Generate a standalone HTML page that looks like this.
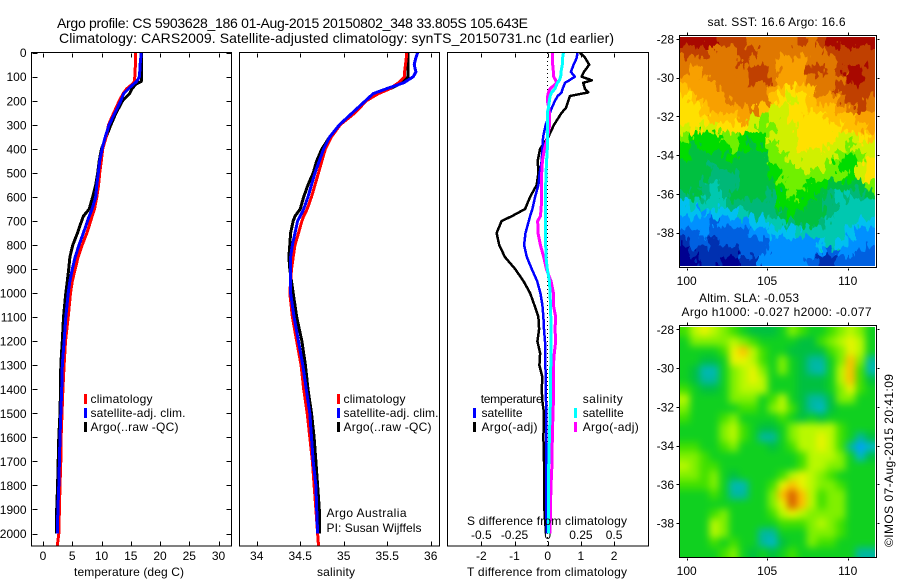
<!DOCTYPE html>
<html lang="en">
<head>
<meta charset="utf-8">
<title>Argo profile</title>
<style>
html,body{margin:0;padding:0;background:#fff;width:900px;height:580px;overflow:hidden}
svg{display:block;font-family:"Liberation Sans",sans-serif;font-size:12px;fill:#000}
text{white-space:pre}
</style>
</head>
<body>
<svg id="chart" xmlns="http://www.w3.org/2000/svg" width="900" height="580" viewBox="0 0 900 580">
  <defs>
    <clipPath id="clip-sst"><rect x="680" y="37" width="195" height="229"/></clipPath>
    <clipPath id="clip-sla"><rect x="680" y="327" width="195" height="230"/></clipPath>
    <filter id="smooth" filterUnits="userSpaceOnUse" x="650" y="300" width="250" height="280" color-interpolation-filters="sRGB"><feGaussianBlur stdDeviation="3.6"/></filter>
    <filter id="jagged" filterUnits="userSpaceOnUse" x="650" y="10" width="250" height="280" color-interpolation-filters="sRGB">
      <feTurbulence type="fractalNoise" baseFrequency="0.2 0.09" numOctaves="2" seed="4" result="noise"/>
      <feDisplacementMap in="SourceGraphic" in2="noise" scale="20" xChannelSelector="R" yChannelSelector="G"/>
    </filter>
  </defs>
  <rect width="900" height="580" fill="#fff"/>

  <text x="57" y="28" font-size="14" textLength="471">Argo profile: CS 5903628_186 01-Aug-2015 20150802_348 33.805S 105.643E</text>
  <text x="59" y="43" font-size="14" textLength="555">Climatology: CARS2009. Satellite-adjusted climatology: synTS_20150731.nc (1d earlier)</text>

  <g id="ticks" stroke="#000" stroke-width="1" shape-rendering="crispEdges"></g>
  <g id="tick-labels"></g>
  <g id="series" fill="none" shape-rendering="crispEdges" stroke-linejoin="round"></g>

  <g fill="none" stroke="#000" stroke-width="1" shape-rendering="crispEdges">
    <rect x="31.5" y="52.5" width="200" height="493.5"/>
    <rect x="239.5" y="52.5" width="200" height="493.5"/>
    <rect x="447.5" y="52.5" width="201" height="493.5"/>
  </g>

  <text x="129" y="576" text-anchor="middle" textLength="110">temperature (deg C)</text>
  <text x="336" y="576" text-anchor="middle" textLength="38">salinity</text>
  <text x="467" y="576" textLength="160">T difference from climatology</text>
  <text x="467" y="525" textLength="160">S difference from climatology</text>

  <g>
    <rect x="84" y="394" width="3" height="10" fill="#f00"/>
    <text x="90.5" y="403" textLength="62">climatology</text>
    <rect x="84" y="408" width="3" height="10" fill="#00f"/>
    <text x="90.5" y="417" textLength="95">satellite-adj. clim.</text>
    <rect x="84" y="422" width="3" height="10" fill="#000"/>
    <text x="90.5" y="431" textLength="88">Argo(..raw -QC)</text>
  </g>
  <g>
    <rect x="337" y="394" width="3" height="10" fill="#f00"/>
    <text x="343.5" y="403" textLength="62">climatology</text>
    <rect x="337" y="408" width="3" height="10" fill="#00f"/>
    <text x="343.5" y="417" textLength="95">satellite-adj. clim.</text>
    <rect x="337" y="422" width="3" height="10" fill="#000"/>
    <text x="343.5" y="431" textLength="88">Argo(..raw -QC)</text>
  </g>
  <text x="326.5" y="517" textLength="80">Argo Australia</text>
  <text x="326.5" y="532" textLength="95">PI: Susan Wijffels</text>

  <g>
    <text x="480.7" y="403" textLength="62">temperature</text>
    <rect x="473" y="408" width="3" height="10" fill="#00f"/>
    <text x="481.5" y="417" textLength="41">satellite</text>
    <rect x="473" y="422" width="3" height="10" fill="#000"/>
    <text x="481.5" y="431" textLength="56">Argo(-adj)</text>
    <text x="582.7" y="403" textLength="40">salinity</text>
    <rect x="574" y="408" width="3" height="10" fill="#0ff"/>
    <text x="582.7" y="417" textLength="41">satellite</text>
    <rect x="574" y="422" width="3" height="10" fill="#f0f"/>
    <text x="582.7" y="431" textLength="56">Argo(-adj)</text>
  </g>

  <text x="707.5" y="26" textLength="138">sat. SST: 16.6 Argo: 16.6</text>
  <text x="699" y="302" textLength="100">Altim. SLA: -0.053</text>
  <text x="681.5" y="316" textLength="190">Argo h1000: -0.027 h2000: -0.077</text>

  <g clip-path="url(#clip-sst)">
    <g id="sst-map" filter="url(#jagged)"></g>
  </g>
  <g clip-path="url(#clip-sla)">
    <g id="sla-map" filter="url(#smooth)"></g>
  </g>
  <g fill="none" stroke="#000" stroke-width="1" shape-rendering="crispEdges">
    <rect x="679.5" y="35.5" width="197" height="232"/>
    <rect x="679.5" y="325.5" width="197" height="232"/>
  </g>

  <text transform="translate(893,547) rotate(-90)" textLength="173">©IMOS 07-Aug-2015 20:41:09</text>
</svg>

<script>
// ---- axis tick values ----
const depthTicks = [0,100,200,300,400,500,600,700,800,900,1000,1100,1200,1300,1400,1500,1600,1700,1800,1900,2000];
const tempTicks = [0,5,10,15,20,25,30];
const salTicks = [34,34.5,35,35.5,36];
const salTickLabels = ["34","34.5","35","35.5","36"];
const tDiffTicks = [-2,-1,0,1,2];
const sDiffTicks = [-0.5,-0.25,0,0.25,0.5];
const sDiffTickLabels = ["-0.5","-0.25","0","0.25","0.5"];
const lonTicks = [100,105,110];
const latTicks = [-28,-30,-32,-34,-36,-38];

// ---- temperature profiles ----
const tempDepths = [0,50,100,120,130,150,170,200,250,300,350,400,450,500,550,600,650,680,700,750,800,850,900,950,1000,1100,1200,1300,1400,1500,1600,1700,1800,1900,2000,2050];
const tempClim = [15.84,15.8,15.7,15.6,15.3,14.3,13.7,13.05,12.1,11.2,10.8,10.2,9.97,9.7,9.5,9.2,8.8,8.4,8.15,7.5,6.7,6.0,5.5,5.0,4.7,4.3,3.85,3.6,3.4,3.25,3.1,3.05,2.9,2.8,2.7,2.45];
const tempSat = [16.8,16.6,16.5,16,15.5,14.6,13.8,13.3,12.3,11.3,10.65,10.1,9.7,9.45,9.2,9,8.4,7.9,7.6,6.9,6.15,5.5,5,4.6,4.3,3.9,3.6,3.3,3.2,3.05,2.9,2.8,2.7,2.55,2.45,null];
const tempArgo = [16.85,16.85,16.85,16.8,15.9,15.2,14.8,13.6,12.5,11.6,10.8,10,9.6,9.35,9,8.5,7.9,6.9,6.6,5.9,5.1,4.6,4.4,4.15,3.9,3.5,3.3,3.05,3,2.9,2.7,2.6,2.5,2.35,2.35,null];

// ---- salinity profiles ----
const salDepths = [0,20,50,80,100,125,150,170,200,250,300,350,400,450,500,550,600,650,680,700,750,800,850,900,1000,1100,1200,1300,1400,1500,1600,1700,1800,1900,2000,2050];
const salClim = [35.72,35.72,35.71,35.7,35.7,35.63,35.53,35.4,35.26,35.13,34.96,34.86,34.79,34.75,34.71,34.67,34.63,34.58,34.54,34.52,34.48,34.44,34.42,34.4,34.38,34.41,34.46,34.51,34.54,34.58,34.61,34.64,34.66,34.68,34.7,34.71];
const salSat = [35.85,35.83,35.81,35.83,35.8,35.69,35.49,35.34,35.25,35.1,34.95,34.84,34.77,34.72,34.67,34.63,34.59,34.54,34.5,34.47,34.44,34.41,34.39,34.39,34.39,34.43,34.48,34.53,34.57,34.61,34.63,34.65,34.68,34.69,34.7,null];
const salArgo = [35.74,35.74,35.74,35.74,35.74,35.67,35.53,35.38,35.26,35.12,34.96,34.84,34.75,34.69,34.65,34.59,34.54,34.5,34.44,34.42,34.39,34.38,34.37,34.38,34.42,34.46,34.52,34.56,34.59,34.63,34.66,34.68,34.7,34.72,34.72,null];

// ---- difference profiles ----
const diffDepths = [0,20,50,80,100,115,125,150,165,180,200,230,250,300,350,400,450,500,550,600,650,680,700,750,800,850,900,950,1000,1050,1100,1150,1200,1250,1300,1350,1400,1450,1500,1600,1700,1800,1900,2000];
const tDiffArgo = [.97,1.12,1.25,1.09,1.02,1.33,1.07,1.12,1.22,.67,.62,.55,.42,.19,.02,-.23,-.3,-.28,-.33,-.53,-.68,-1.08,-1.39,-1.54,-1.46,-1.29,-.98,-.73,-.53,-.4,-.28,-.26,-.31,-.23,-.25,-.16,-.18,-.16,-.11,-.13,-.11,-.1,-.1,-.05];
const tDiffSat = [.89,.88,.78,.7,.82,.65,.52,.45,.42,.3,.22,.12,.07,-.06,-.14,-.16,-.18,-.24,-.28,-.38,-.46,-.53,-.57,-.67,-.71,-.63,-.48,-.32,-.22,-.16,-.13,-.11,-.08,-.07,-.07,-.06,-.06,-.05,-.05,-.05,-.05,-.05,-.05,-.02];
const sDiffArgo = [.038,.038,.038,.043,.045,.06,.068,.018,.005,0,-.003,.008,.013,.015,0,-.025,-.04,-.045,-.045,-.045,-.05,-.055,-.075,-.073,-.055,-.03,-.01,.025,.043,.043,.06,.055,.06,.05,.043,.043,.043,.043,.04,.035,.033,.025,.02,.018];
const sDiffSat = [.118,.113,.11,.1,.098,.088,.073,.055,.03,.018,.013,.005,-.003,-.003,0,-.003,-.008,-.013,-.015,-.015,-.015,-.015,-.015,-.015,-.015,-.013,-.003,.013,.018,.02,.023,.025,.025,.025,.023,.02,.02,.02,.018,.013,.008,.005,.005,.005];

// ---- map fields: colour-level estimates per cell, north to south ----
const sstLevels = [
[16,16,16,16,15,15,15,14,14,14,14,14,15,14,15,16,16,16,16,16],
[15,15,15,14,14,14,15,15,14,14,14,14,14,14,14,15,15,15,15,15],
[14,14,14,14,14,14,15,14,14,14,13,13,13,14,14,14,15,15,15,15],
[14,13,14,14,14,14,14,15,15,14,13,13,13,15,15,14,15,16,16,15],
[13,13,13,14,14,14,14,15,15,14,13,13,13,14,14,14,14,16,16,15],
[12,13,13,13,14,14,14,14,14,13,12,11,12,12,14,14,15,15,15,15],
[11,12,13,13,13,14,14,14,14,12,11,10,11,12,13,13,14,15,15,14],
[11,11,12,13,13,13,13,14,12,10,10,11,11,12,12,12,13,14,15,14],
[11,11,11,12,12,12,13,10,9,10,10,11,11,11,11,12,12,12,13,13],
[10,11,10,10,11,11,11,10,9,9,10,10,11,11,11,11,11,12,12,13],
[9,8,8,8,9,9,8,8,8,10,10,10,11,11,11,11,10,10,11,12],
[8,7,8,8,8,9,8,7,8,9,10,10,11,11,11,10,10,9,10,10],
[8,7,7,7,7,8,7,7,7,9,9,10,10,10,10,10,9,8,9,10],
[7,7,7,6,7,7,7,7,7,8,9,9,10,10,10,9,8,8,10,11],
[7,7,7,6,6,6,7,7,7,8,9,9,9,9,9,9,9,8,10,11],
[7,7,6,5,6,6,7,7,7,7,8,9,9,8,8,7,7,7,7,9],
[6,7,6,5,6,7,7,7,7,6,8,9,8,8,7,6,5,6,6,7],
[4,5,5,5,5,6,6,6,6,6,8,8,8,7,7,6,5,5,5,5],
[4,4,3,4,4,4,5,6,6,6,7,8,7,7,7,6,5,5,5,5],
[3,3,3,2,3,3,3,4,4,5,5,6,7,7,6,5,5,5,4,4],
[2,2,3,2,2,2,2,3,3,4,4,4,5,5,5,5,5,4,3,3],
[1,2,2,1,2,2,2,2,2,3,3,3,3,3,4,5,4,3,3,3],
[0,1,1,1,1,1,2,2,2,3,3,3,3,3,3,2,3,3,2,2],
[0,0,1,1,0,0,1,1,3,3,3,3,3,2,1,1,2,2,2,2]
];
const slaLevels = [
[5,7,8,7,6,5,4,3,3,3,4,6,5,4,4,5,6,7,6,4],
[4,6,6,6,6,7,6,5,4,4,4,4,3,3,5,6,7,8,7,4],
[4,4,4,4,5,8,9,7,5,4,4,3,3,3,3,5,6,8,7,4],
[4,4,3,3,4,8,8,7,5,4,6,4,3,2,2,4,6,9,6,2],
[4,3,1.5,1.5,4,6,7,8,6,4,6,4,3,2,1.5,4,7,9,5,1.5],
[4,3,2,2,4,6,7,8,7,4,4,4,3,3,3,4,7,9,5,3],
[5,4,3,3,4,6,7,7,7,4,4,4,3,3,3,4,6,8,5,4],
[7,4,4,4,4,6,6,6,4,5,7,4,3,2,2,3,6,6,4,4],
[6,4,4,4,4,4,5,5,4,6,7,5,3,2,1,3,4,4,4,4],
[5,4,4,4,5,6,4,4,4,4,5,4,3,4,3,4,4,4,4,4],
[4,4,4,4,6,7,5,4,3,3,4,6,7,7,7,7,5,4,4,4],
[4,4,4,4,6,7,5,4,2,2,4,6,7,7,8,7,5,4,2,3],
[5,5,4,4,5,6,4,4,4,3,4,5,7,7,8,7,5,2,0,1],
[6,6,5,4,4,4,4,4,4,4,4,4,5,7,7,7,6,4,1,3],
[7,6,5,5,4,4,4,4,4,4,4,4,5,7,7,6,6,4,4,4],
[6,6,5,6,4,3,4,4,4,4,5,7,8,7,6,5,4,4,4,4],
[5,5,5,6,4,1.5,1.5,4,4,5,8,9,8,7,6,6,5,4,4,4],
[4,4,4,5,4,2,2,4,4,6,9,11,9,7,5,6,6,4,4,4],
[4,4,4,4,4,4,4,4,4,6,8,11,9,7,5,6,6,4,4,4],
[4,4,4,5,6,4,4,4,4,5,7,8,7,6,6,6,6,4,4,4],
[4,4,4,7,6,4,4,4,4,4,5,5,5,6,7,6,5,4,4,4],
[4,4,4,7,6,4,4,4,2,2,4,4,4,6,6,6,5,4,4,4],
[4,4,4,5,4,5,4,4,2,1,3,4,4,6,5,5,4,4,4,4],
[4,4,4,4,5,6,4,3,4,3,4,5,4,4,4,4,4,4,2,2]
];

// ---- axis functions ----
const NS = "http://www.w3.org/2000/svg";
const yDepth = d => 52.7 + d * 0.2404;
const xTemp = t => 43 + t * 5.85;
const xSal = s => 256.7 + (s - 34) * 87;
const xTDiff = d => 547.7 + d * 33.2;
const xSDiff = d => xTDiff(d * 4);
const xLon = lon => 686.7 + (lon - 100) * 16.1;
const ySstLat = lat => 39 + (-28 - lat) * 19.37;
const ySlaLat = lat => 329.3 + (-28 - lat) * 19.37;

const sstPalette = ["#000090","#0030b0","#0060e0","#0090ff","#00c0f0","#00c8b0","#00b878","#00c040","#00dc00","#70f000","#d0f000","#ffe000","#ffc000","#f8a000","#e07800","#c04000","#a80800"];
const slaPalette = ["#00a0ff","#00b8c8","#00b8a0","#00c040","#10d020","#40e000","#80f000","#b8f800","#e8f400","#ffc000","#f09000","#d86000"];

function paletteColor(palette, v) {
  const lo = Math.max(0, Math.min(palette.length - 1, Math.floor(v)));
  const hi = Math.min(palette.length - 1, lo + 1);
  const f = v - lo;
  const ch = (c, i) => parseInt(c.substr(1 + i * 2, 2), 16);
  const mix = i => Math.round(ch(palette[lo], i) * (1 - f) + ch(palette[hi], i) * f);
  return "rgb(" + mix(0) + "," + mix(1) + "," + mix(2) + ")";
}

const ticksG = document.getElementById("ticks");
const labelsG = document.getElementById("tick-labels");
const seriesG = document.getElementById("series");

function tick(x1, y1, x2, y2) {
  const l = document.createElementNS(NS, "line");
  l.setAttribute("x1", Math.round(x1) + 0.5);
  l.setAttribute("y1", Math.round(y1) + 0.5);
  l.setAttribute("x2", Math.round(x2) + 0.5);
  l.setAttribute("y2", Math.round(y2) + 0.5);
  
  
  ticksG.appendChild(l);
}
function label(x, y, str, anchor) {
  const t = document.createElementNS(NS, "text");
  t.setAttribute("x", x);
  t.setAttribute("y", y);
  t.setAttribute("text-anchor", anchor);
  t.textContent = str;
  
  
  labelsG.appendChild(t);
}
function profile(xFn, depths, values, color, width, name) {
  const pts = [];
  values.forEach((v, i) => {
    if (v !== null) pts.push(xFn(v).toFixed(1) + "," + yDepth(depths[i]).toFixed(1));
  });
  const p = document.createElementNS(NS, "polyline");
  p.setAttribute("points", pts.join(" "));
  p.setAttribute("stroke", color);
  p.setAttribute("stroke-width", width);
  
  
  seriesG.appendChild(p);
}
function heatmap(groupId, grid, palette, x0, y0, x1, y1, name) {
  const g = document.getElementById(groupId);
  const bleed = 24;
  const rows = grid.length, cols = grid[0].length;
  const w = (x1 - x0) / cols, h = (y1 - y0) / rows;
  grid.forEach((row, r) => row.forEach((v, c) => {
    const left = x0 + c * w - (c === 0 ? bleed : 0);
    const top = y0 + r * h - (r === 0 ? bleed : 0);
    const right = x0 + (c + 1) * w + (c === cols - 1 ? bleed : 0.5);
    const bottom = y0 + (r + 1) * h + (r === rows - 1 ? bleed : 0.5);
    const cell = document.createElementNS(NS, "rect");
    cell.setAttribute("x", left.toFixed(2));
    cell.setAttribute("y", top.toFixed(2));
    cell.setAttribute("width", (right - left).toFixed(2));
    cell.setAttribute("height", (bottom - top).toFixed(2));
    cell.setAttribute("fill", paletteColor(palette, v));
    
    
    g.appendChild(cell);
  }));
}

// depth axis: labels and ticks on both sides of the temperature panel
depthTicks.forEach(d => {
  const y = yDepth(d);
  tick(32, y, 37, y);
  tick(226, y, 231, y);
  label(26.5, y + 4.5, String(d), "end");
});
// bottom and top ticks
tempTicks.forEach(v => {
  const x = xTemp(v);
  tick(x, 53, x, 57); tick(x, 541, x, 546);
  label(x, 560, String(v), "middle");
});
salTicks.forEach((v, i) => {
  const x = xSal(v);
  tick(x, 53, x, 57); tick(x, 541, x, 546);
  label(x, 560, salTickLabels[i], "middle");
});
tDiffTicks.forEach(v => {
  const x = xTDiff(v);
  tick(x, 53, x, 57); tick(x, 541, x, 546);
  label(x, 560, String(v), "middle");
});
sDiffTicks.forEach((v, i) => {
  label(xSDiff(v), 539, sDiffTickLabels[i], "middle");
});
// map axes
lonTicks.forEach(lon => {
  const x = xLon(lon);
  tick(x, 32, x, 35); tick(x, 268, x, 270);
  label(x, 285, String(lon), "middle");
  tick(x, 322, x, 325); tick(x, 558, x, 560);
  label(x, 575, String(lon), "middle");
});
latTicks.forEach(lat => {
  const a = ySstLat(lat), b = ySlaLat(lat);
  tick(676, a, 679, a); tick(877, a, 879, a);
  label(674, a + 4.5, String(lat), "end");
  tick(676, b, 679, b); tick(877, b, 879, b);
  label(674, b + 4.5, String(lat), "end");
});

// zero reference in the difference panel
const zero = document.createElementNS(NS, "line");
zero.setAttribute("x1", xTDiff(0));
zero.setAttribute("x2", xTDiff(0));
zero.setAttribute("y1", 53);
zero.setAttribute("y2", 546);
zero.setAttribute("stroke", "#000");
zero.setAttribute("stroke-dasharray", "1 3");


seriesG.appendChild(zero);

profile(xTemp, tempDepths, tempArgo, "#000", 3, "temperature-argo-line");
profile(xTemp, tempDepths, tempClim, "#f00", 3, "temperature-climatology-line");
profile(xTemp, tempDepths, tempSat, "#00f", 3, "temperature-satellite-line");
profile(xSal, salDepths, salArgo, "#000", 3, "salinity-argo-line");
profile(xSal, salDepths, salClim, "#f00", 3, "salinity-climatology-line");
profile(xSal, salDepths, salSat, "#00f", 3, "salinity-satellite-line");
profile(xTDiff, diffDepths, tDiffArgo, "#000", 2.5, "t-difference-argo-line");
profile(xTDiff, diffDepths, tDiffSat, "#00f", 2.5, "t-difference-satellite-line");
profile(xSDiff, diffDepths, sDiffArgo, "#f0f", 3, "s-difference-argo-line");
profile(xSDiff, diffDepths, sDiffSat, "#0ff", 3, "s-difference-satellite-line");

heatmap("sst-map", sstLevels, sstPalette, 680, 37, 875, 266, "sst-cell");
heatmap("sla-map", slaLevels, slaPalette, 680, 327, 875, 557, "sla-cell");
</script>
</body>
</html>
